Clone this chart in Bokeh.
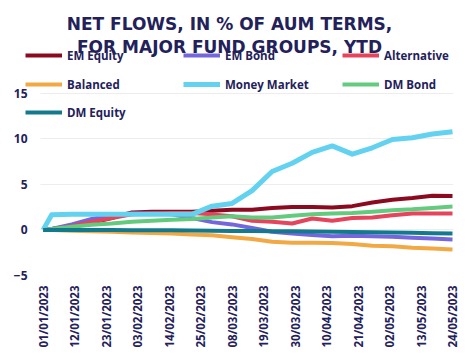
import math
import pandas as pd
from bokeh.plotting import figure
from bokeh.models import (FixedTicker, DatetimeTickFormatter, Legend, LegendItem,
                          Label, Range1d)
from bokeh.embed import file_html
from bokeh.resources import INLINE

# ---------------- data ----------------
dates = ["01/01/2023", "04/01/2023", "11/01/2023", "18/01/2023", "25/01/2023",
         "01/02/2023", "08/02/2023", "15/02/2023", "22/02/2023", "01/03/2023",
         "08/03/2023", "15/03/2023", "22/03/2023", "29/03/2023", "05/04/2023",
         "12/04/2023", "19/04/2023", "26/04/2023", "03/05/2023", "10/05/2023",
         "17/05/2023", "24/05/2023"]

em_equity = [0, 0.1, 0.4, 0.8, 1.3, 1.9, 2.0, 2.0, 2.0, 2.1, 2.2, 2.2, 2.4, 2.5,
             2.5, 2.45, 2.6, 3.0, 3.3, 3.5, 3.75, 3.7]
em_bond = [0, 0.1, 0.6, 1.2, 1.6, 1.8, 1.8, 1.7, 1.3, 0.85, 0.6, 0.2, -0.2, -0.4,
           -0.55, -0.7, -0.65, -0.7, -0.75, -0.85, -0.95, -1.05]
alternative = [0, 0.05, 0.4, 0.9, 1.3, 1.7, 1.8, 1.85, 1.85, 1.7, 1.5, 1.0, 0.9,
               0.7, 1.25, 1.0, 1.3, 1.35, 1.6, 1.8, 1.8, 1.8]
balanced = [0, -0.02, -0.1, -0.15, -0.2, -0.3, -0.35, -0.4, -0.5, -0.6, -0.8,
            -1.0, -1.3, -1.4, -1.4, -1.45, -1.55, -1.75, -1.8, -1.95, -2.05, -2.15]
money_market = [0, 1.65, 1.7, 1.7, 1.7, 1.7, 1.7, 1.7, 1.7, 2.6, 2.9, 4.3, 6.4,
                7.3, 8.5, 9.2, 8.3, 9.0, 9.9, 10.1, 10.5, 10.75]
dm_bond = [0, 0.1, 0.35, 0.55, 0.7, 0.9, 1.0, 1.1, 1.2, 1.35, 1.5, 1.35, 1.35,
           1.55, 1.7, 1.8, 1.85, 2.0, 2.15, 2.25, 2.4, 2.55]
dm_equity = [0, 0, 0, 0, -0.02, -0.03, -0.05, -0.05, -0.08, -0.1, -0.12, -0.12,
             -0.15, -0.15, -0.18, -0.2, -0.22, -0.25, -0.28, -0.32, -0.37, -0.4]

series_names = ["EM Equity", "EM Bond", "Alternative", "Balanced",
                "Money Market", "DM Bond", "DM Equity"]
series_values = [em_equity, em_bond, alternative, balanced, money_market,
                 dm_bond, dm_equity]
series_colors = ["#8C0A1F", "#7566DB", "#E5445C", "#F2A944", "#62D2F0",
                 "#63CB7E", "#137A8E"]

tick_labels = ["01/01/2023", "12/01/2023", "23/01/2023", "03/02/2023",
               "14/02/2023", "25/02/2023", "08/03/2023", "19/03/2023",
               "30/03/2023", "10/04/2023", "21/04/2023", "02/05/2023",
               "13/05/2023", "24/05/2023"]
y_ticks = [-5, 0, 5, 10, 15]

title_lines = ["NET FLOWS, IN % OF AUM TERMS,", "FOR MAJOR FUND GROUPS, YTD"]

# ---------------- chart ----------------
NAVY = "#23215A"
FONT = "Open Sans"

x = pd.to_datetime(dates, format="%d/%m/%Y")
ticks_dt = pd.to_datetime(tick_labels, format="%d/%m/%Y")
ticks_ms = [int(t.value // 10**6) for t in ticks_dt]
DAY = pd.Timedelta(days=1)

W, H = 474, 357
p = figure(width=W, height=H, x_axis_type="datetime", output_backend="svg",
           toolbar_location=None,
           min_border_left=24, min_border_right=21, min_border_top=0,
           min_border_bottom=82)
# frame extends to the top of the canvas so title/legend sit inside it
p.x_range = Range1d(x[0] - 6.5 * DAY, x[-1] + 0.35 * DAY)
p.y_range = Range1d(-5, 25.14)

renderers = []
for name, vals, col in zip(series_names, series_values, series_colors):
    lw = 5 if name == "Money Market" else 4
    r = p.line(x, vals, line_color=col, line_width=lw, line_join="round")
    renderers.append(r)

# axes
p.xaxis.ticker = FixedTicker(ticks=ticks_ms)
p.xaxis.formatter = DatetimeTickFormatter(
    milliseconds="%d/%m/%Y", seconds="%d/%m/%Y", minsec="%d/%m/%Y",
    minutes="%d/%m/%Y", hourmin="%d/%m/%Y", hours="%d/%m/%Y",
    days="%d/%m/%Y", months="%d/%m/%Y", years="%d/%m/%Y")
p.xaxis.major_label_orientation = math.pi / 2
p.xaxis.axis_line_color = None
p.xaxis.major_label_standoff = 10
p.xaxis.major_label_text_font_size = "11.5px"

p.yaxis.ticker = FixedTicker(ticks=y_ticks)
p.yaxis.axis_line_color = None
p.yaxis.major_label_standoff = -3
p.yaxis.major_label_text_font_size = "12px"

for ax in (p.xaxis, p.yaxis):
    ax.major_tick_line_color = None
    ax.minor_tick_line_color = None
    ax.major_tick_out = 0
    ax.major_tick_in = 0
    ax.minor_tick_out = 0
    ax.major_label_text_font = FONT
    ax.major_label_text_font_style = "bold"
    ax.major_label_text_color = NAVY

p.xgrid.grid_line_color = None
p.ygrid.grid_line_color = "#EDEDED"
start_ms = (x[0] - 0.95 * DAY).value / 1e6
end_ms = (x[-1] + 0.35 * DAY).value / 1e6
p.ygrid.cross_bounds = (start_ms, end_ms)
p.outline_line_color = None
p.background_fill_color = "white"
p.border_fill_color = "white"

# legends: 3 columns x 3 rows (bottom-left corner, screen px relative to frame)
col_x = [1, 159, 318]
row_y = [210, 181, 153]
for i, (name, r) in enumerate(zip(series_names, renderers)):
    lg = Legend(items=[LegendItem(label=name, renderers=[r])],
                location=(col_x[i % 3], row_y[i // 3]),
                orientation="horizontal", padding=0, margin=0,
                glyph_width=37, glyph_height=20, label_standoff=5,
                label_text_font=FONT, label_text_font_style="bold",
                label_text_font_size="11.5px", label_text_color=NAVY,
                background_fill_alpha=0, border_line_color=None)
    p.add_layout(lg, "center")

# title (two centered lines)
for txt, yy in zip(title_lines, [252, 229]):
    p.add_layout(Label(x=205, y=yy, x_units="screen", y_units="screen",
                       text=txt, text_align="center", text_baseline="alphabetic",
                       text_font="DejaVu Sans", text_font_style="bold",
                       text_font_size="17px", text_color=NAVY))

open("out.html", "w").write(file_html(p, INLINE))
